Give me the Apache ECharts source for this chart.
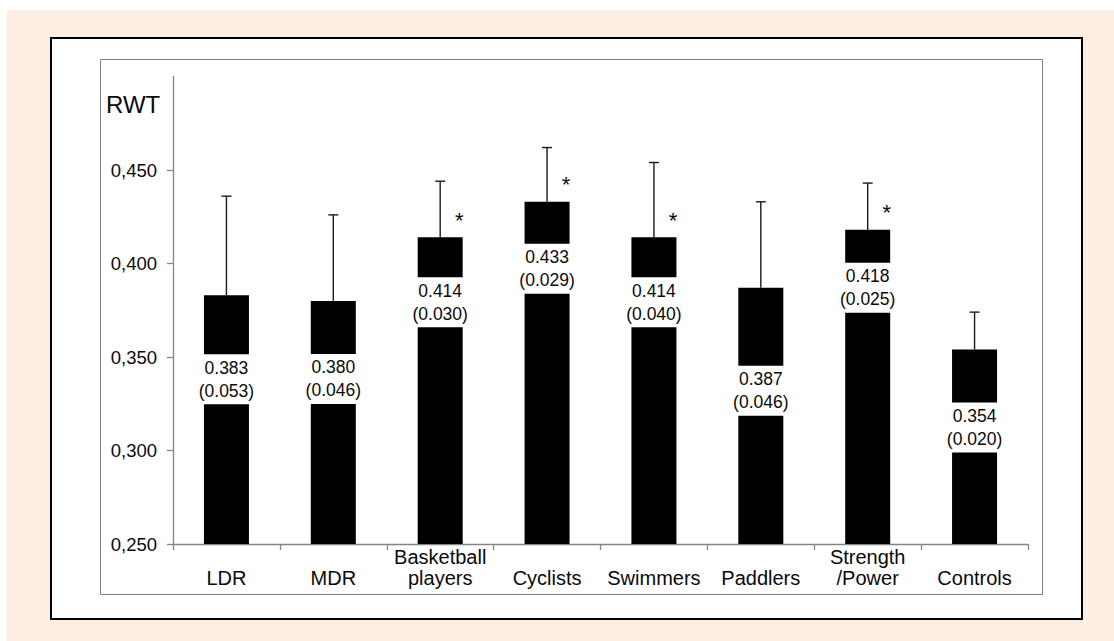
<!DOCTYPE html>
<html>
<head>
<meta charset="utf-8">
<title>RWT by group</title>
<script src="https://cdn.jsdelivr.net/npm/echarts@6/dist/echarts.min.js"></script>
<style>
  html, body { margin: 0; padding: 0; background: #ffffff; }
  #chart { width: 1114px; height: 641px; }
</style>
</head>
<body>
<div id="chart"></div>
<script>
// Group names along the horizontal axis
const categories = ['LDR', 'MDR', 'Basketball\nplayers', 'Cyclists', 'Swimmers', 'Paddlers', 'Strength\n/Power', 'Controls'];
// Mean RWT per group
const means = [0.383, 0.380, 0.414, 0.433, 0.414, 0.387, 0.418, 0.354];
// Standard deviation per group (drawn as upward error bars)
const sds = [0.053, 0.046, 0.030, 0.029, 0.040, 0.046, 0.025, 0.020];
// Groups marked with an asterisk
const significant = [false, false, true, true, true, false, true, false];
// Value-axis tick labels
const yTicks = [0.25, 0.30, 0.35, 0.40, 0.45];

// Layout: distance (px) from each bar top down to the centre of its value box
const labelDrop = [84, 78, 65, 67, 65, 103, 58, 78];

const FONT = '"Liberation Sans", Arial, Helvetica, sans-serif';
const INK = '#0a0a0a';
const AXIS_GREY = '#858585';

const chart = echarts.init(document.getElementById('chart'), null, { renderer: 'svg' });

const barData = means.map((m, i) => ({
  value: m,
  label: { distance: labelDrop[i] - 25 }
}));

const errData = means.map((m, i) => [i, m, m + sds[i], significant[i] ? 1 : 0]);

const option = {
  backgroundColor: '#ffffff',
  animation: false,
  textStyle: { fontFamily: FONT },
  graphic: [
    { type: 'rect', z: -30, silent: true,
      shape: { x: 7, y: 10, width: 1107, height: 631 },
      style: { fill: '#fdeee3' } },
    { type: 'rect', z: -20, silent: true,
      shape: { x: 51, y: 38, width: 1031, height: 581 },
      style: { fill: '#ffffff', stroke: '#000000', lineWidth: 2 } },
    { type: 'rect', z: -10, silent: true,
      shape: { x: 100.5, y: 59.5, width: 942, height: 535 },
      style: { fill: 'none', stroke: '#808080', lineWidth: 1 } },
    { type: 'text', z: 10, silent: true, left: 106, top: 92,
      style: { text: 'RWT', fontSize: 24, fontFamily: FONT, fill: INK } }
  ],
  grid: { left: 173, right: 86, top: 76.5, bottom: 97 },
  xAxis: {
    type: 'category',
    data: categories,
    boundaryGap: true,
    axisLine: { show: true, lineStyle: { color: AXIS_GREY, width: 1.3 } },
    axisTick: { show: true, length: 6, interval: 0, lineStyle: { color: AXIS_GREY, width: 1.3 } },
    axisLabel: {
      interval: 0, margin: 44, verticalAlign: 'bottom',
      fontSize: 20, lineHeight: 21, color: INK, fontFamily: FONT
    },
    splitLine: { show: false }
  },
  yAxis: {
    type: 'value',
    min: 0.25, max: 0.5, interval: 0.05,
    axisLine: { show: true, lineStyle: { color: AXIS_GREY, width: 1.3 } },
    axisTick: { show: true, length: 6, customValues: yTicks, lineStyle: { color: AXIS_GREY, width: 1.3 } },
    axisLabel: {
      customValues: yTicks, margin: 16, fontSize: 18.5, color: INK, fontFamily: FONT,
      formatter: v => (v > 0.46 ? '' : v.toFixed(3).replace('.', ','))
    },
    splitLine: { show: false }
  },
  series: [
    {
      type: 'bar',
      data: barData,
      barWidth: 45,
      itemStyle: { color: '#000000' },
      label: {
        show: true,
        position: 'insideTop',
        formatter: p => p.value.toFixed(3) + '\n(' + sds[p.dataIndex].toFixed(3) + ')',
        fontSize: 17.5, lineHeight: 23, color: INK, fontFamily: FONT,
        backgroundColor: '#ffffff', padding: [2, 3], width: 56, align: 'center'
      },
      z: 2
    },
    {
      type: 'custom',
      data: errData,
      encode: { x: 0, y: [1, 2] },
      z: 3,
      renderItem: (params, api) => {
        const base = api.coord([api.value(0), api.value(1)]);
        const top = api.coord([api.value(0), api.value(2)]);
        const stroke = { stroke: '#1a1a1a', lineWidth: 1.4 };
        const kids = [
          { type: 'line', shape: { x1: base[0], y1: base[1], x2: top[0], y2: top[1] }, style: stroke },
          { type: 'line', shape: { x1: top[0] - 5, y1: top[1], x2: top[0] + 5, y2: top[1] }, style: stroke }
        ];
        if (api.value(3) === 1) {
          kids.push({
            type: 'text',
            style: {
              text: '*', x: base[0] + 19, y: base[1] - 28,
              fontSize: 22, fontFamily: FONT, fill: INK,
              align: 'center', verticalAlign: 'top'
            }
          });
        }
        return { type: 'group', children: kids };
      }
    }
  ]
};

chart.setOption(option);
</script>
</body>
</html>
